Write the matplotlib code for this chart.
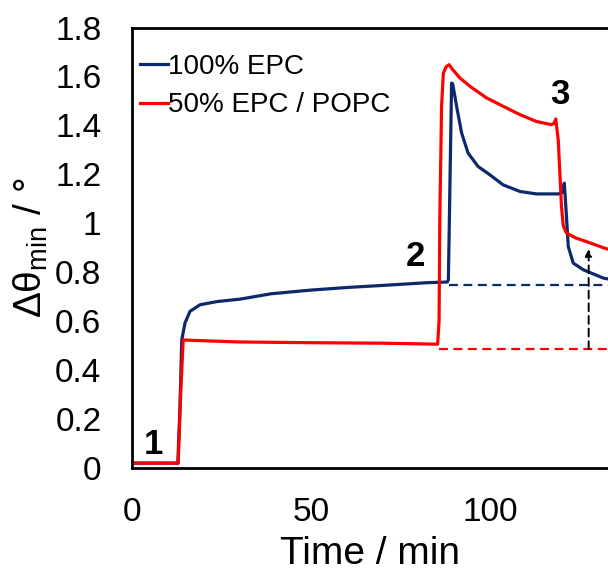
import numpy as np
import matplotlib.pyplot as plt

plt.rcParams['font.family'] = ['Liberation Sans', 'DejaVu Sans']
plt.rcParams['mathtext.fontset'] = 'custom'
plt.rcParams['mathtext.rm'] = 'Liberation Sans'
plt.rcParams['mathtext.it'] = 'Liberation Sans'

# 100% EPC (blue)
t_epc = [0, 5, 10, 12.8, 13.4, 13.9, 14.8, 16.2, 19.0, 23.7, 30.2, 38.9, 50, 60.5, 70, 82.2,
         88.1, 88.4, 89.3, 89.6, 90.7, 92.1, 93.9, 96.7, 100.0, 103.7, 108.4, 113.0, 119.1,
         120.2, 120.8, 121.3, 121.9, 123.3, 126.1, 131.7, 134]
y_epc = [0.02, 0.02, 0.02, 0.02, 0.25, 0.523, 0.592, 0.64, 0.667, 0.68, 0.69, 0.712, 0.727,
         0.738, 0.746, 0.757, 0.760, 0.769, 1.573, 1.57, 1.478, 1.369, 1.287, 1.232, 1.198,
         1.157, 1.13, 1.12, 1.12, 1.125, 1.164, 1.05, 0.905, 0.837, 0.81, 0.776, 0.77]

# 50% EPC / POPC (red)
t_mix = [0, 5, 10, 12.9, 13.6, 14.3, 20, 30, 50, 70, 85.4, 85.8, 86.0, 86.5, 87.0, 87.8,
         88.6, 89.5, 91.6, 94.4, 99.1, 103.7, 108.4, 113.0, 117.2, 118.0, 118.4, 119.1,
         120.0, 120.5, 121.4, 124.0, 127.0, 132.1, 134]
y_mix = [0.02, 0.02, 0.02, 0.019, 0.3, 0.523, 0.52, 0.515, 0.512, 0.51, 0.506, 0.6, 1.01,
         1.478, 1.614, 1.64, 1.648, 1.63, 1.594, 1.56, 1.512, 1.478, 1.444, 1.416, 1.403,
         1.41, 1.426, 1.34, 1.07, 0.99, 0.96, 0.94, 0.925, 0.898, 0.89]

# baselines and arrow
base_epc = 0.748
base_mix = 0.486
base_epc_start = 88.6
base_mix_start = 85.9
arrow_x = 127.6
arrow_top = 0.895

step_labels = ['1', '2', '3']
step_x = [6.0, 79.3, 119.6]
step_y = [0.094, 0.864, 1.526]

blue = '#0c2a6b'
red = '#ff0000'

fig = plt.figure(figsize=(6.08, 5.74), dpi=100)
ax = fig.add_axes([132 / 608, 106 / 574, 476 / 608, 440.5 / 574])

ax.plot(t_epc, y_epc, color=blue, lw=2.3, label='100% EPC', solid_joinstyle='round')
ax.plot(t_mix, y_mix, color=red, lw=2.3, label='50% EPC / POPC', solid_joinstyle='round')

ax.plot([base_epc_start, 140], [base_epc, base_epc], color=blue, lw=1.6, ls=(0, (4, 2.5)))
ax.plot([base_mix_start, 140], [base_mix, base_mix], color=red, lw=1.6, ls=(0, (4, 2.5)))
ax.annotate('', xy=(arrow_x, arrow_top), xytext=(arrow_x, base_mix),
            arrowprops=dict(arrowstyle='-|>', color='black', lw=1.4, ls=(0, (4, 2.5)),
                            mutation_scale=10, shrinkA=0, shrinkB=0))

for s, x, y in zip(step_labels, step_x, step_y):
    ax.text(x, y, s, fontsize=25, fontweight='bold', ha='center', va='center')

ax.set_xlim(0, 133)
ax.set_ylim(0, 1.8)
ax.set_xticks([0, 50, 100])
ax.set_yticks(np.arange(0, 1.81, 0.2))
ax.set_yticklabels(['0', '0.2', '0.4', '0.6', '0.8', '1', '1.2', '1.4', '1.6', '1.8'])
ax.tick_params(length=0, labelsize=24)
ax.tick_params(axis='y', pad=22)
ax.tick_params(axis='x', pad=21)
for side in ['left', 'bottom', 'top']:
    ax.spines[side].set_linewidth(2)
ax.spines['right'].set_visible(False)

ax.set_xlabel('Time / min', fontsize=28, labelpad=6)
ax.set_ylabel('Δθ$_{\\mathrm{min}}$ / °', fontsize=28, labelpad=4)

ax.legend(loc='upper left', bbox_to_anchor=(0.0168, 0.94), frameon=False, fontsize=20,
          handlelength=1.0, handletextpad=0.0, borderaxespad=0, labelspacing=0.45,
          borderpad=0)

plt.savefig('out.png', dpi=100)
